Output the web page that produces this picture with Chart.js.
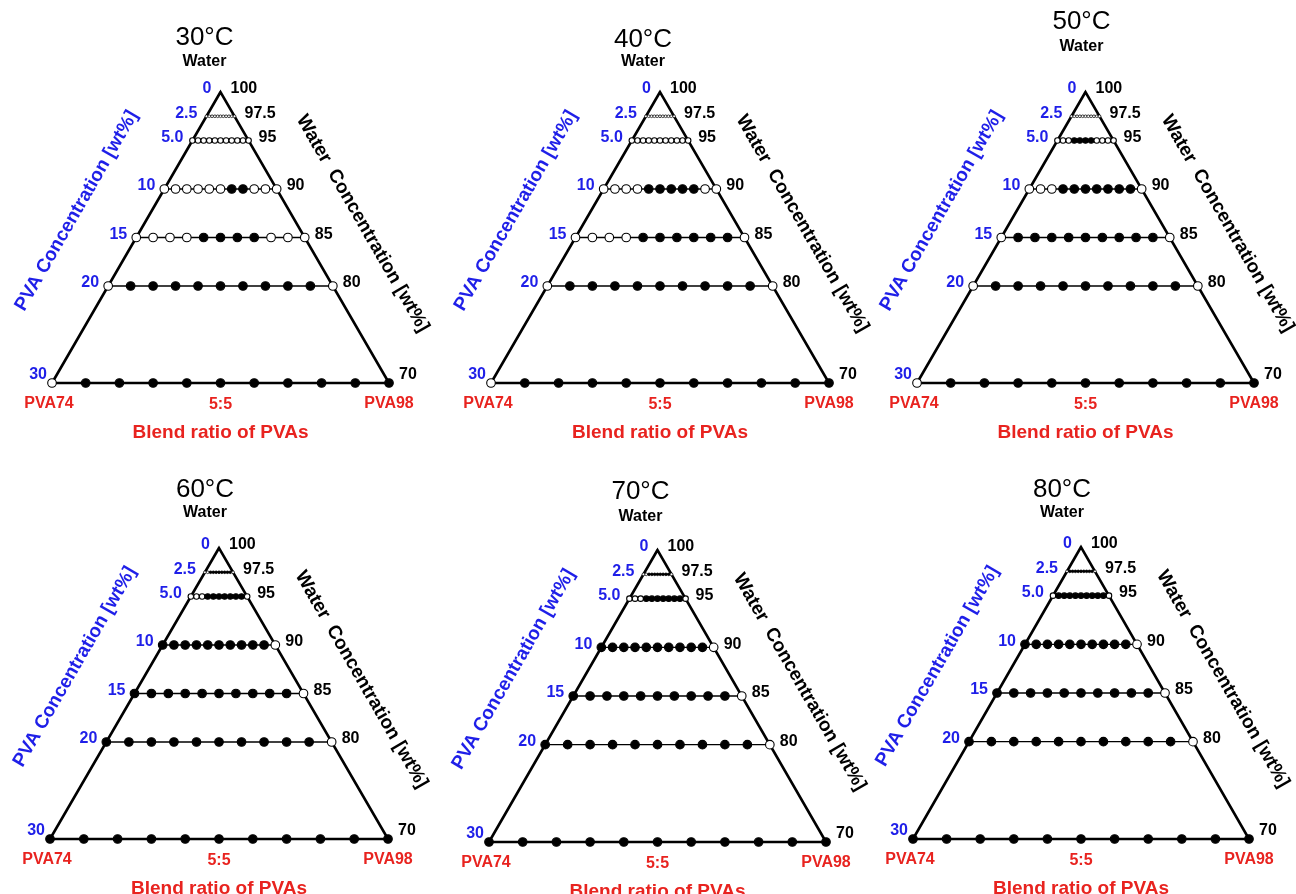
<!DOCTYPE html>
<html>
<head>
<meta charset="utf-8">
<title>PVA blend phase diagrams</title>
<script src="https://cdn.jsdelivr.net/npm/chart.js@4.4.0/dist/chart.umd.min.js"></script>
<style>
  html, body { margin: 0; padding: 0; background: #fff; width: 1296px; height: 894px; overflow: hidden; position: relative; }
  canvas { position: absolute; }
</style>
</head>
<body>
<script>
// ---- data ----
const temperatures = ['30°C', '40°C', '50°C', '60°C', '70°C', '80°C'];
const pvaConc = [2.5, 5, 10, 15, 20, 30];           // rows, wt% PVA
const blendParts = [0, 1, 2, 3, 4, 5, 6, 7, 8, 9, 10]; // PVA98 parts of 10 (PVA74 -> PVA98)
const tickConc = [0, 2.5, 5, 10, 15, 20, 30];
const pvaTickLabels = ['0', '2.5', '5.0', '10', '15', '20', '30'];
const waterTickLabels = ['100', '97.5', '95', '90', '85', '80', '70'];
const blendTickParts = [0, 5, 10];
const blendTickLabels = ['PVA74', '5:5', 'PVA98'];

// 1 = filled circle, 0 = open circle; one row per pvaConc entry
const marks30 = [
  [0,0,0,0,0,0,0,0,0,0,0],
  [0,0,0,0,0,0,0,0,0,0,0],
  [0,0,0,0,0,0,1,1,0,0,0],
  [0,0,0,0,1,1,1,1,0,0,0],
  [0,1,1,1,1,1,1,1,1,1,0],
  [0,1,1,1,1,1,1,1,1,1,1],
];
const marks40 = [
  [0,0,0,0,0,0,0,0,0,0,0],
  [0,0,0,0,0,0,0,0,0,0,0],
  [0,0,0,0,1,1,1,1,1,0,0],
  [0,0,0,0,1,1,1,1,1,1,0],
  [0,1,1,1,1,1,1,1,1,1,0],
  [0,1,1,1,1,1,1,1,1,1,1],
];
const marks50 = [
  [0,0,0,0,0,0,0,0,0,0,0],
  [0,0,0,1,1,1,1,0,0,0,0],
  [0,0,0,1,1,1,1,1,1,1,0],
  [0,1,1,1,1,1,1,1,1,1,0],
  [0,1,1,1,1,1,1,1,1,1,0],
  [0,1,1,1,1,1,1,1,1,1,1],
];
const marks60 = [
  [0,0,1,1,1,1,1,1,1,1,0],
  [0,0,0,1,1,1,1,1,1,1,0],
  [1,1,1,1,1,1,1,1,1,1,0],
  [1,1,1,1,1,1,1,1,1,1,0],
  [1,1,1,1,1,1,1,1,1,1,0],
  [1,1,1,1,1,1,1,1,1,1,1],
];
const marks70 = [
  [0,0,1,1,1,1,1,1,1,1,0],
  [0,0,0,1,1,1,1,1,1,1,0],
  [1,1,1,1,1,1,1,1,1,1,0],
  [1,1,1,1,1,1,1,1,1,1,0],
  [1,1,1,1,1,1,1,1,1,1,0],
  [1,1,1,1,1,1,1,1,1,1,1],
];
const marks80 = [
  [0,1,1,1,1,1,1,1,1,1,0],
  [0,1,1,1,1,1,1,1,1,1,0],
  [1,1,1,1,1,1,1,1,1,1,0],
  [1,1,1,1,1,1,1,1,1,1,0],
  [1,1,1,1,1,1,1,1,1,1,0],
  [1,1,1,1,1,1,1,1,1,1,1],
];
const allMarks = [marks30, marks40, marks50, marks60, marks70, marks80];

// ---- layout (triangle bounding boxes on the page, title offsets from apex) ----
const panels = [
  { left: 52,  right: 389,  top: 92,  bottom: 383, dx: -16, titleDy: -54, waterDy: -30 },
  { left: 491, right: 829,  top: 92,  bottom: 383, dx: -17, titleDy: -52, waterDy: -30 },
  { left: 917, right: 1254, top: 92,  bottom: 383, dx: -4,  titleDy: -70, waterDy: -45 },
  { left: 50,  right: 388,  top: 548, bottom: 839, dx: -14, titleDy: -58, waterDy: -35 },
  { left: 489, right: 826,  top: 550, bottom: 842, dx: -17, titleDy: -58, waterDy: -33 },
  { left: 913, right: 1249, top: 547, bottom: 839, dx: -19, titleDy: -57, waterDy: -34 },
];
const W = 440, H = 470, PAD_L = 60, PAD_T = 100;
const FONT = '"Liberation Sans", Arial, Helvetica, sans-serif';
const BLUE = '#1f1fe8';
const RED = '#e8231f';
const maxC = tickConc[tickConc.length - 1];

// draws all the text of one ternary panel from the chart's scales
const ternaryLabels = {
  id: 'ternaryLabels',
  afterDatasetsDraw(chart, args, opts) {
    const { ctx, scales: { x, y } } = chart;
    const apex = { x: x.getPixelForValue(0), y: y.getPixelForValue(0) };
    const bl = { x: x.getPixelForValue(-maxC / 2), y: y.getPixelForValue(maxC) };
    const br = { x: x.getPixelForValue(maxC / 2), y: y.getPixelForValue(maxC) };

    ctx.save();
    ctx.textAlign = 'center';
    ctx.textBaseline = 'middle';

    // title + "Water"
    ctx.fillStyle = '#000';
    ctx.font = `26px ${FONT}`;
    ctx.fillText(opts.title, apex.x + opts.dx, apex.y + opts.titleDy);
    ctx.font = `bold 16px ${FONT}`;
    ctx.fillText('Water', apex.x + opts.dx, apex.y + opts.waterDy);

    // tick labels on both edges
    ctx.font = `bold 16px ${FONT}`;
    tickConc.forEach((c, i) => {
      const py = y.getPixelForValue(c) - (c === maxC ? 8 : 3);
      const gap = c === maxC ? 5 : 9;
      ctx.fillStyle = BLUE;
      ctx.textAlign = 'right';
      ctx.fillText(pvaTickLabels[i], x.getPixelForValue(-c / 2) - gap, py);
      ctx.fillStyle = '#000';
      ctx.textAlign = 'left';
      ctx.fillText(waterTickLabels[i], x.getPixelForValue(c / 2) + 10, py);
    });

    // edge titles
    ctx.textAlign = 'center';
    ctx.font = `bold 19px ${FONT}`;
    let t = 0.52, off = 65;
    let cx = apex.x + t * (bl.x - apex.x) - off * 0.866;
    let cy = apex.y + t * (bl.y - apex.y) - off * 0.5;
    ctx.save();
    ctx.translate(cx, cy);
    ctx.rotate(-Math.PI / 3);
    ctx.fillStyle = BLUE;
    ctx.fillText('PVA Concentration [wt%]', 0, 0);
    ctx.restore();

    t = 0.55; off = 57;
    cx = apex.x + t * (br.x - apex.x) + off * 0.866;
    cy = apex.y + t * (br.y - apex.y) - off * 0.5;
    ctx.save();
    ctx.translate(cx, cy);
    ctx.rotate(Math.PI / 3);
    ctx.fillStyle = '#000';
    ctx.fillText('Water  Concentration [wt%]', 0, 0);
    ctx.restore();

    // blend ratio axis
    ctx.fillStyle = RED;
    ctx.font = `bold 16px ${FONT}`;
    blendTickParts.forEach((p, i) => {
      const px = x.getPixelForValue((p / 10 - 0.5) * maxC);
      ctx.fillText(blendTickLabels[i], px + (p === 0 ? -3 : 0), bl.y + (p === 5 ? 22 : 21));
    });
    ctx.font = `bold 19px ${FONT}`;
    ctx.fillText('Blend ratio of PVAs', apex.x, bl.y + 50);
    ctx.restore();
  }
};

function buildDatasets(marks) {
  const rows = pvaConc.map((c, ri) => ({
    data: blendParts.map(p => ({ x: (p / 10 - 0.5) * c, y: c })),
    showLine: true,
    borderColor: '#000',
    borderWidth: 1.4,
    pointRadius: Math.min(4.3, c * 0.55),
    pointBorderWidth: c < 4 ? 0.7 : 1.1,
    pointBorderColor: '#000',
    pointBackgroundColor: marks[ri].map(m => (m ? '#000' : '#fff')),
    clip: false,
    order: 0,
  }));
  // triangle frame
  rows.push({
    data: [
      { x: -maxC / 2, y: maxC }, { x: 0, y: 0 }, { x: maxC / 2, y: maxC },
      { x: -maxC / 2, y: maxC }, { x: 0, y: 0 },
    ],
    showLine: true,
    borderColor: '#000',
    borderWidth: 2.6,
    borderJoinStyle: 'miter',
    pointRadius: 0,
    clip: false,
    order: 1,
  });
  return rows;
}

panels.forEach((p, i) => {
  const canvas = document.createElement('canvas');
  canvas.width = W;
  canvas.height = H;
  canvas.style.left = (p.left - PAD_L) + 'px';
  canvas.style.top = (p.top - PAD_T) + 'px';
  document.body.appendChild(canvas);

  new Chart(canvas.getContext('2d'), {
    type: 'scatter',
    data: { datasets: buildDatasets(allMarks[i]) },
    options: {
      responsive: false,
      animation: false,
      events: [],
      layout: {
        padding: {
          left: PAD_L,
          top: PAD_T,
          right: W - PAD_L - (p.right - p.left),
          bottom: H - PAD_T - (p.bottom - p.top),
        },
      },
      plugins: {
        legend: { display: false },
        tooltip: { enabled: false },
        ternaryLabels: { title: temperatures[i], dx: p.dx, titleDy: p.titleDy, waterDy: p.waterDy },
      },
      scales: {
        x: { type: 'linear', min: -maxC / 2, max: maxC / 2, display: false },
        y: { type: 'linear', min: 0, max: maxC, reverse: true, display: false },
      },
    },
    plugins: [ternaryLabels],
  });
});
</script>
</body>
</html>
